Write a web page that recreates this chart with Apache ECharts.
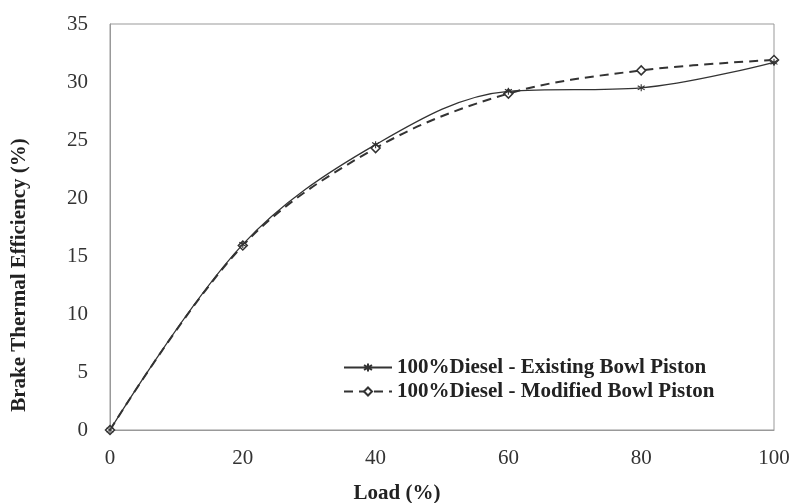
<!DOCTYPE html>
<html><head><meta charset="utf-8">
<script src="https://cdn.jsdelivr.net/npm/echarts@6/dist/echarts.min.js"></script>
<style>html,body{margin:0;padding:0;background:#fff}#c{width:796px;height:503px}</style>
</head><body><div id="c"></div>
<script>
const loads = [0, 20, 40, 60, 80, 100];
const existing = [0, 16.0, 24.6, 29.2, 29.5, 31.7];
const modified = [0, 15.9, 24.3, 29.0, 31.0, 31.9];
const seriesNames = ['100%Diesel - Existing Bowl Piston', '100%Diesel - Modified Bowl Piston'];
const xTitle = 'Load (%)';
const yTitle = 'Brake Thermal Efficiency (%)';

const serif = '"Liberation Serif", "DejaVu Serif", serif';
const pairs = arr => loads.map((x, i) => [x, arr[i]]);
const chart = echarts.init(document.getElementById('c'));
chart.setOption({
  animation: false,
  backgroundColor: '#fff',
  grid: { left: 110, right: 22, top: 24, bottom: 73, show: true, borderColor: '#999', borderWidth: 1 },
  graphic: [{
    type: 'text', rotation: Math.PI / 2, x: 20, y: 275,
    style: { text: yTitle, font: 'bold 21px ' + serif, fill: '#222', align: 'center', verticalAlign: 'middle' }
  }],
  xAxis: {
    type: 'value', min: 0, max: 100, interval: 20,
    axisLine: { show: true, lineStyle: { color: '#999' } },
    axisTick: { show: false },
    splitLine: { show: false },
    axisLabel: { fontFamily: serif, fontSize: 21, color: '#333', margin: 18 }
  },
  yAxis: {
    type: 'value', min: 0, max: 35, interval: 5,
    axisLine: { show: true, lineStyle: { color: '#999' } },
    axisTick: { show: false },
    splitLine: { show: false },
    axisLabel: { fontFamily: serif, fontSize: 21, color: '#333', margin: 22 }
  },
  title: [
    { text: xTitle, left: 392, top: 478, textAlign: 'center',
      textStyle: { fontFamily: serif, fontWeight: 'bold', fontSize: 21, color: '#222' } }
  ],
  legend: {
    orient: 'vertical', left: 338, top: 352, itemGap: 3, itemWidth: 48, itemHeight: 10,
    textStyle: { fontFamily: serif, fontWeight: 'bold', fontSize: 21, color: '#222' },
    data: seriesNames
  },
  series: [
    {
      name: seriesNames[0], type: 'line', data: pairs(existing), smooth: 0.35,
      symbol: 'path://M0,-5L0,5M-4,-3L4,3M-4,3L4,-3', symbolSize: 7,
      itemStyle: { color: '#333', borderColor: '#333', borderWidth: 1.1 },
      lineStyle: { color: '#333', width: 1.3, type: 'solid' }, z: 3
    },
    {
      name: seriesNames[1], type: 'line', data: pairs(modified), smooth: 0.35,
      symbol: 'diamond', symbolSize: 9,
      itemStyle: { color: '#fff', borderColor: '#333', borderWidth: 1.5 },
      lineStyle: { color: '#333', width: 2, type: [9, 6] }, z: 2
    }
  ]
});
</script></body></html>
